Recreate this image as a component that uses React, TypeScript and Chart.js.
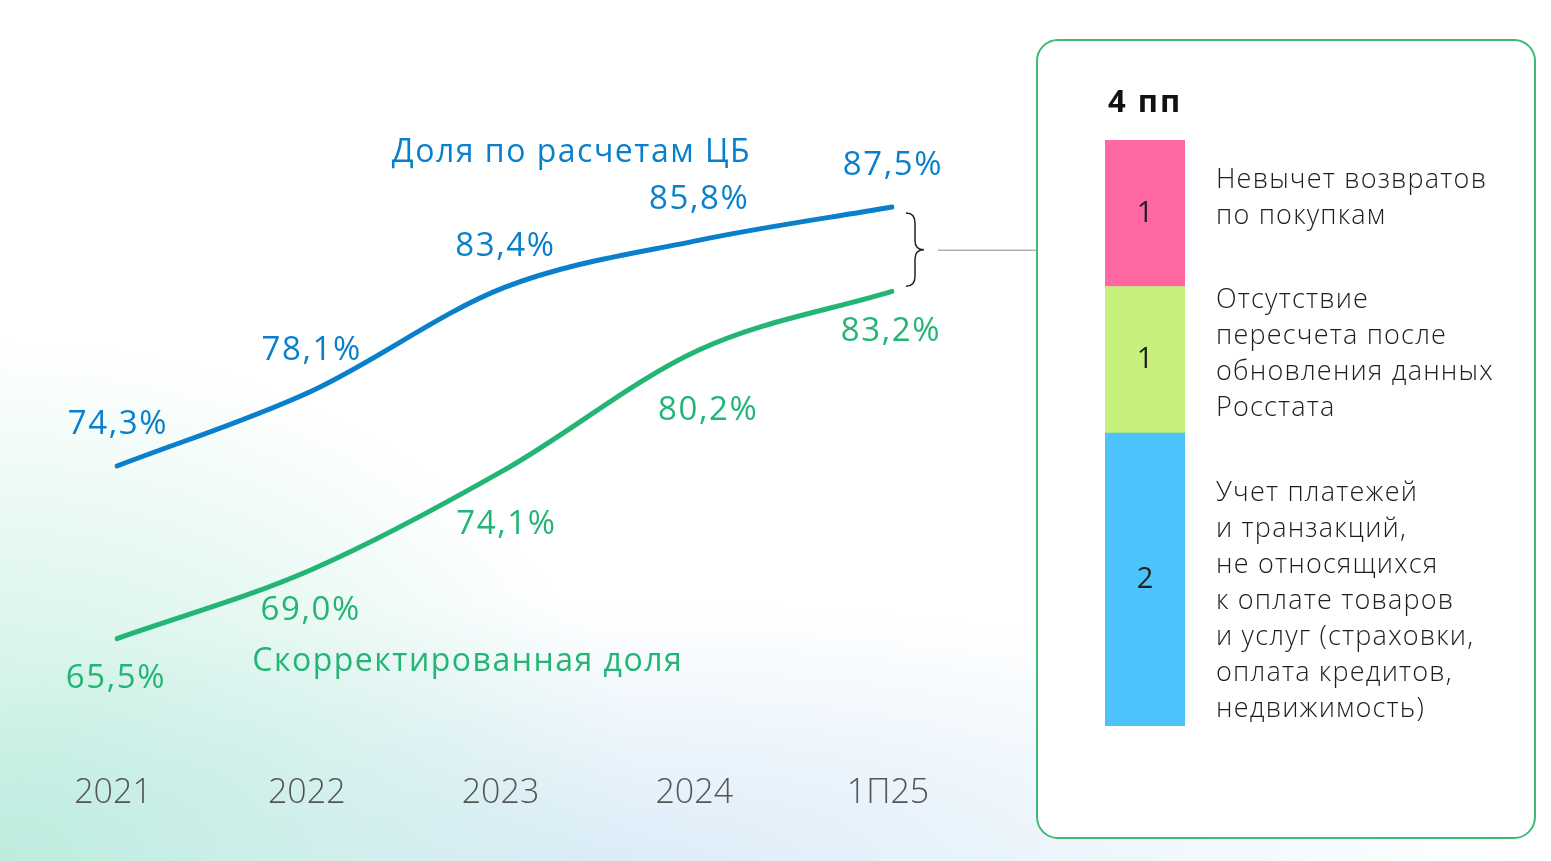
import { useEffect, useRef } from 'react';
import { Chart, registerables } from 'chart.js';

Chart.register(...registerables);

const years = ['2021', '2022', '2023', '2024', '1П25'];
const cbShare = [74.3, 78.1, 83.4, 85.8, 87.5];
const adjustedShare = [65.5, 69.0, 74.1, 80.2, 83.2];
const cbTitle = 'Доля по расчетам ЦБ';
const adjustedTitle = 'Скорректированная доля';

const gapTitle = '4 пп';
const gapValues = [2, 1, 1];
const gapLabels = [
    ['Учет платежей', 'и транзакций,', 'не относящихся', 'к оплате товаров', 'и услуг (страховки,', 'оплата кредитов,', 'недвижимость)'],
    ['Отсутствие', 'пересчета после', 'обновления данных', 'Росстата'],
    ['Невычет возвратов', 'по покупкам']
];

const BLUE = '#0a80cc';
const GREEN = '#22b573';
const FONT = '"Open Sans", sans-serif';

// nudges for the green value labels so they stay clear of the line
const adjustedShift = [[-1, 40], [0, 41], [2, 55], [10, 60], [-1, 40]];
// vertical nudges for the factor texts beside the bar
const factorShift = [22, -5, -15];

const pct = (v: number) => v.toFixed(1).replace('.', ',') + '%';

function LineChart() {
    const canvasRef = useRef<HTMLCanvasElement>(null);
    const chartRef = useRef<Chart | null>(null);

    useEffect(() => {
        if (!canvasRef.current) return;
        const ctx = canvasRef.current.getContext('2d');
        if (!ctx) return;
        if (chartRef.current) chartRef.current.destroy();

        const annotations = {
            id: 'annotations',
            afterDatasetsDraw(chart: Chart) {
                const c: any = chart.ctx;
                const xs = chart.scales.x;
                const ys = chart.scales.y;
                c.save();
                c.textAlign = 'center';
                c.textBaseline = 'middle';
                c.font = `400 33px ${FONT}`;
                c.letterSpacing = '1.6px';

                c.fillStyle = BLUE;
                cbShare.forEach((v, i) => {
                    c.fillText(pct(v), xs.getPixelForValue(i) + 1, ys.getPixelForValue(v) - 41);
                });
                c.fillStyle = GREEN;
                adjustedShare.forEach((v, i) => {
                    const [dx, dy] = adjustedShift[i];
                    c.fillText(pct(v), xs.getPixelForValue(i) + dx, ys.getPixelForValue(v) + dy);
                });

                c.font = `400 32px ${FONT}`;
                c.letterSpacing = '1.5px';
                c.fillStyle = BLUE;
                c.fillText(cbTitle, xs.getPixelForValue(2) + 67, ys.getPixelForValue(cbShare[2]) - 135);
                c.fillStyle = GREEN;
                c.fillText(adjustedTitle, xs.getPixelForValue(1) + 157, ys.getPixelForValue(adjustedShare[1]) + 92);

                // brace between the last two points and the connector to the box
                const last = cbShare.length - 1;
                const bx = xs.getPixelForValue(last) + 14;
                const top = ys.getPixelForValue(cbShare[last]) + 6;
                const bot = ys.getPixelForValue(adjustedShare[last]) - 5;
                const mid = (top + bot) / 2;
                c.strokeStyle = '#222';
                c.lineWidth = 1.5;
                c.beginPath();
                c.moveTo(bx, top);
                c.quadraticCurveTo(bx + 9, top, bx + 9, top + 10);
                c.lineTo(bx + 9, mid - 9);
                c.quadraticCurveTo(bx + 9, mid, bx + 18, mid);
                c.quadraticCurveTo(bx + 9, mid, bx + 9, mid + 9);
                c.lineTo(bx + 9, bot - 10);
                c.quadraticCurveTo(bx + 9, bot, bx, bot);
                c.stroke();

                c.strokeStyle = '#8a8a8a';
                c.lineWidth = 1;
                c.beginPath();
                c.moveTo(bx + 32, mid + 0.5);
                c.lineTo(chart.width, mid + 0.5);
                c.stroke();
                c.restore();
            }
        };

        chartRef.current = new Chart(ctx, {
            type: 'line',
            data: {
                labels: years,
                datasets: [
                    { data: cbShare, borderColor: BLUE, borderWidth: 5, borderCapStyle: 'round', pointRadius: 0, cubicInterpolationMode: 'monotone' },
                    { data: adjustedShare, borderColor: GREEN, borderWidth: 5, borderCapStyle: 'round', pointRadius: 0, cubicInterpolationMode: 'monotone' }
                ]
            },
            options: {
                responsive: false,
                animation: false,
                layout: { padding: { left: 117, right: 148, top: 118.7, bottom: 0 } },
                scales: {
                    x: {
                        offset: false,
                        grid: { display: false, drawTicks: false },
                        border: { display: false },
                        ticks: { color: '#555', padding: 26, labelOffset: -4, font: { family: FONT, size: 34, weight: 300 } },
                        afterFit: (s: any) => { s.height = 861 - 746.6; }
                    },
                    y: { display: false, min: 60, max: 92 }
                },
                plugins: { legend: { display: false }, tooltip: { enabled: false } }
            },
            plugins: [annotations]
        });

        return () => {
            if (chartRef.current) {
                chartRef.current.destroy();
                chartRef.current = null;
            }
        };
    }, []);

    return <canvas ref={canvasRef} width={1040} height={861} style={{ position: 'absolute', left: 0, top: 0 }} />;
}

function GapChart() {
    const canvasRef = useRef<HTMLCanvasElement>(null);
    const chartRef = useRef<Chart | null>(null);

    useEffect(() => {
        if (!canvasRef.current) return;
        const ctx = canvasRef.current.getContext('2d');
        if (!ctx) return;
        if (chartRef.current) chartRef.current.destroy();

        const texts = {
            id: 'texts',
            afterDatasetsDraw(chart: Chart) {
                const c: any = chart.ctx;
                const area = chart.chartArea;
                c.save();
                c.fillStyle = '#111';
                c.textBaseline = 'middle';
                c.textAlign = 'left';
                c.font = `700 31px ${FONT}`;
                c.letterSpacing = '2px';
                c.fillText(gapTitle, area.left + 3, area.top - 37);

                chart.data.datasets.forEach((ds, i) => {
                    const bar: any = chart.getDatasetMeta(i).data[0];
                    const cy = (bar.y + bar.base) / 2;
                    c.textAlign = 'center';
                    c.fillStyle = '#222';
                    c.font = `400 29px ${FONT}`;
                    c.letterSpacing = '0px';
                    c.fillText(String(ds.data[0]), bar.x, cy);

                    const lines = gapLabels[i];
                    const lh = 36;
                    const y0 = cy + factorShift[i] - ((lines.length - 1) * lh) / 2;
                    c.textAlign = 'left';
                    c.fillStyle = '#1e1e1e';
                    c.font = `300 27px ${FONT}`;
                    c.letterSpacing = '1.2px';
                    lines.forEach((t, k) => c.fillText(t, area.right + 31, y0 + k * lh));
                });
                c.restore();
            }
        };

        chartRef.current = new Chart(ctx, {
            type: 'bar',
            data: {
                labels: [gapTitle],
                datasets: [
                    { data: [gapValues[0]], backgroundColor: '#4cc3fb' },
                    { data: [gapValues[1]], backgroundColor: '#c7ef7c' },
                    { data: [gapValues[2]], backgroundColor: '#ff67a3' }
                ]
            },
            options: {
                responsive: false,
                animation: false,
                layout: { padding: { left: 68, right: 350, top: 100, bottom: 112 } },
                datasets: { bar: { barPercentage: 1, categoryPercentage: 1 } },
                scales: {
                    x: { display: false, stacked: true },
                    y: { display: false, stacked: true, min: 0, max: 4 }
                },
                plugins: { legend: { display: false }, tooltip: { enabled: false } }
            },
            plugins: [texts]
        });

        return () => {
            if (chartRef.current) {
                chartRef.current.destroy();
                chartRef.current = null;
            }
        };
    }, []);

    return (
        <div style={{
            position: 'absolute', left: 1036, top: 39, width: 500, height: 800,
            boxSizing: 'border-box', border: '2.5px solid #3dba78', borderRadius: 22, background: '#fff'
        }}>
            <canvas ref={canvasRef} width={498} height={798} style={{ position: 'absolute', left: -1.5, top: -1.5 }} />
        </div>
    );
}

export default function App() {
    useEffect(() => {
        document.body.style.margin = '0';
    }, []);

    return (
        <div style={{
            position: 'relative', width: 1551, height: 861, overflow: 'hidden',
            background: 'radial-gradient(ellipse 650px 520px at 0% 100%, rgba(170,232,212,0.75), rgba(255,255,255,0) 100%),'
                + 'radial-gradient(ellipse 900px 260px at 40% 100%, rgba(205,228,246,0.7), rgba(255,255,255,0) 100%), #fff'
        }}>
            <LineChart />
            <GapChart />
        </div>
    );
}
